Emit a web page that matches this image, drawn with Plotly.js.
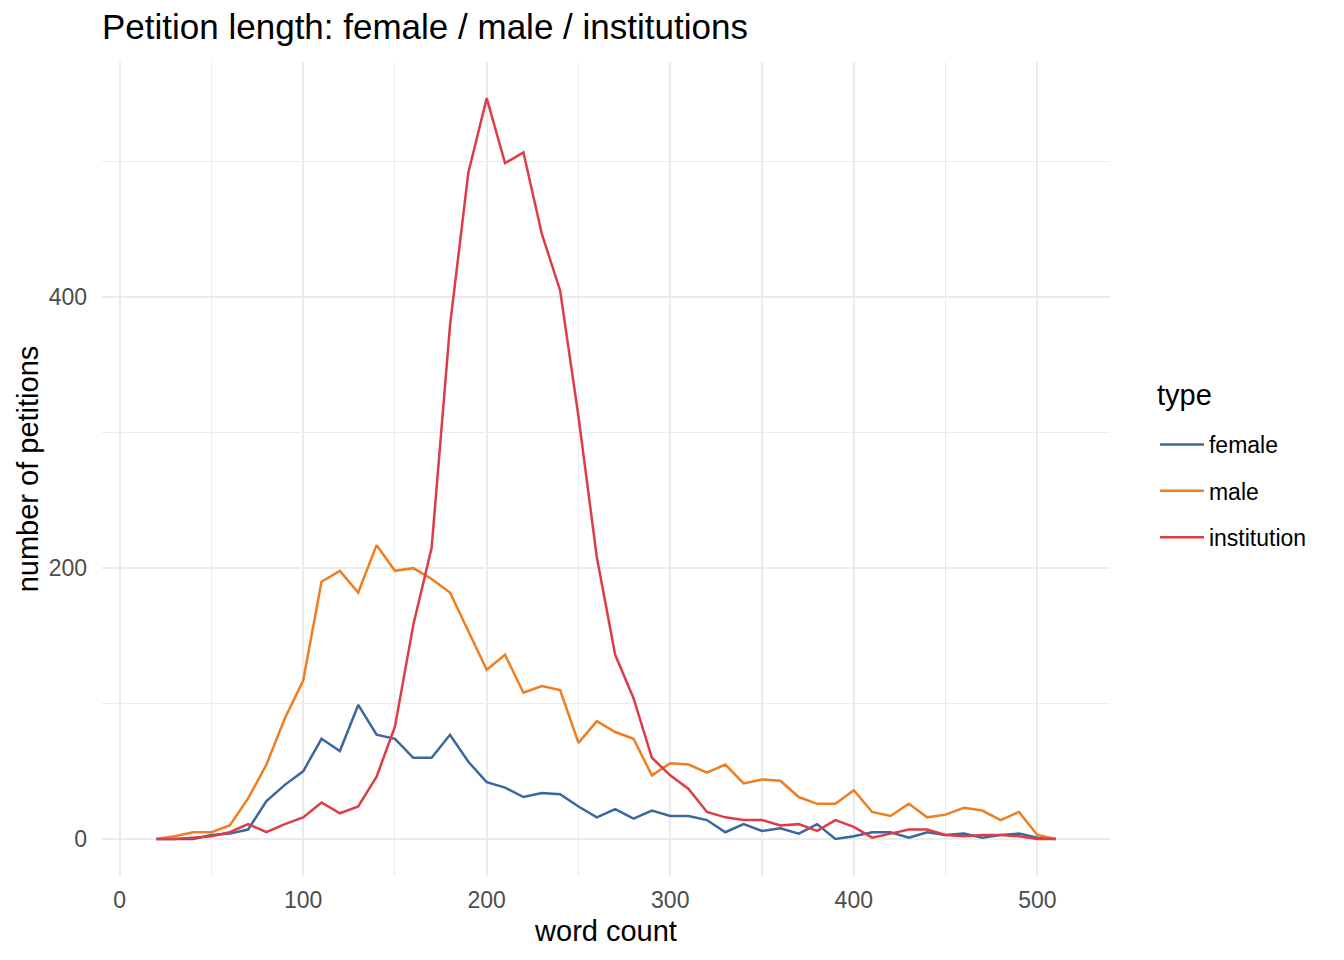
<!DOCTYPE html>
<html>
<head>
<meta charset="utf-8">
<script src="https://cdn.plot.ly/plotly-3.0.1.min.js"></script>
<style>
  html, body { margin: 0; padding: 0; background: #fff; }
  #chart { width: 1344px; height: 960px; }
</style>
</head>
<body>
<div id="chart"></div>
<script>
// word count bins (centres)
const wordCount = [20, 30, 40, 50, 60, 70, 80, 90, 100, 110, 120, 130, 140, 150, 160, 170, 180, 190, 200, 210,
  220, 230, 240, 250, 260, 270, 280, 290, 300, 310, 320, 330, 340, 350, 360, 370, 380, 390, 400, 410,
  420, 430, 440, 450, 460, 470, 480, 490, 500, 510];

const female = [0, 0, 0, 3, 4, 7, 28, 40, 50, 74, 65, 99, 77, 74, 60, 60, 77, 57, 42, 38,
  31, 34, 33, 24, 16, 22, 15, 21, 17, 17, 14, 5, 11, 6, 8, 4, 11, 0, 2, 5,
  5, 1, 5, 3, 4, 1, 3, 4, 1, 0];

const male = [0, 2, 5, 5, 10, 30, 55, 89, 117, 190, 198, 182, 217, 198, 200, 192, 182, 154, 125, 136,
  108, 113, 110, 71, 87, 79, 74, 47, 56, 55, 49, 55, 41, 44, 43, 31, 26, 26, 36, 20,
  17, 26, 16, 18, 23, 21, 14, 20, 3, 0];

const institution = [0, 0, 1, 2, 5, 11, 5, 11, 16, 27, 19, 24, 46, 83, 158, 215, 379, 492, 547, 499,
  507, 447, 405, 312, 208, 136, 104, 60, 47, 37, 20, 16, 14, 14, 10, 11, 6, 14, 9, 1,
  4, 7, 7, 3, 2, 3, 3, 2, 0, 0];

const seriesNames = ['female', 'male', 'institution'];
const seriesColors = ['#3B67A0', '#F07E1F', '#DC3D46'];
const seriesValues = [female, male, institution];

const FONT = '"Liberation Sans", Arial, Helvetica, sans-serif';

const traces = seriesNames.map((name, i) => ({
  x: wordCount,
  y: seriesValues[i],
  name: name,
  type: 'scatter',
  mode: 'lines',
  legendgroup: name,
  line: { color: seriesColors[i], width: 2.5 }
}));

const layout = {
  width: 1344,
  height: 960,
  margin: { l: 102, r: 234, t: 62, b: 84 },
  paper_bgcolor: '#fff',
  plot_bgcolor: '#fff',
  font: { family: FONT, color: '#000' },
  title: {
    text: 'Petition length: female / male / institutions',
    font: { size: 35, color: '#000', family: FONT },
    x: 102 / 1344, xanchor: 'left', xref: 'container',
    y: 0.972, yanchor: 'middle'
  },
  xaxis: {
    range: [-9.6, 539.6],
    tickvals: [0, 100, 200, 300, 400, 500],
    showgrid: true, gridcolor: '#EBEBEB', gridwidth: 2.2,
    minor: { tickvals: [50, 150, 250, 350, 450], showgrid: true, gridcolor: '#EBEBEB', gridwidth: 1.1 },
    zeroline: false, showline: false, ticks: '',
    ticklabelstandoff: 8,
    tickfont: { size: 23, color: '#4D4D4D', family: FONT },
    title: { text: 'word count', font: { size: 29, color: '#000', family: FONT }, standoff: 8 }
  },
  yaxis: {
    range: [-27.3, 573.7],
    tickvals: [0, 200, 400],
    showgrid: true, gridcolor: '#EBEBEB', gridwidth: 2.2,
    minor: { tickvals: [100, 300, 500], showgrid: true, gridcolor: '#EBEBEB', gridwidth: 1.1 },
    zeroline: false, showline: false, ticks: '',
    ticklabelstandoff: 14,
    tickfont: { size: 23, color: '#4D4D4D', family: FONT },
    title: { text: 'number of petitions', font: { size: 29, color: '#000', family: FONT }, standoff: 1 }
  },
  showlegend: true,
  legend: {
    x: 1.0446, xanchor: 'left',
    y: 0.473, yanchor: 'middle',
    traceorder: 'grouped',
    tracegroupgap: 13.5,
    itemwidth: 44,
    font: { size: 23, color: '#000', family: FONT },
    bgcolor: 'rgba(0,0,0,0)'
  },
  annotations: [{
    text: 'type',
    xref: 'paper', yref: 'paper',
    x: (1155 - 102) / 1008, xanchor: 'left',
    y: (876 - 395) / 814, yanchor: 'middle',
    showarrow: false,
    font: { size: 29, color: '#000', family: FONT }
  }],
  hovermode: false
};

Plotly.newPlot('chart', traces, layout, { displayModeBar: false, staticPlot: true });
</script>
</body>
</html>
